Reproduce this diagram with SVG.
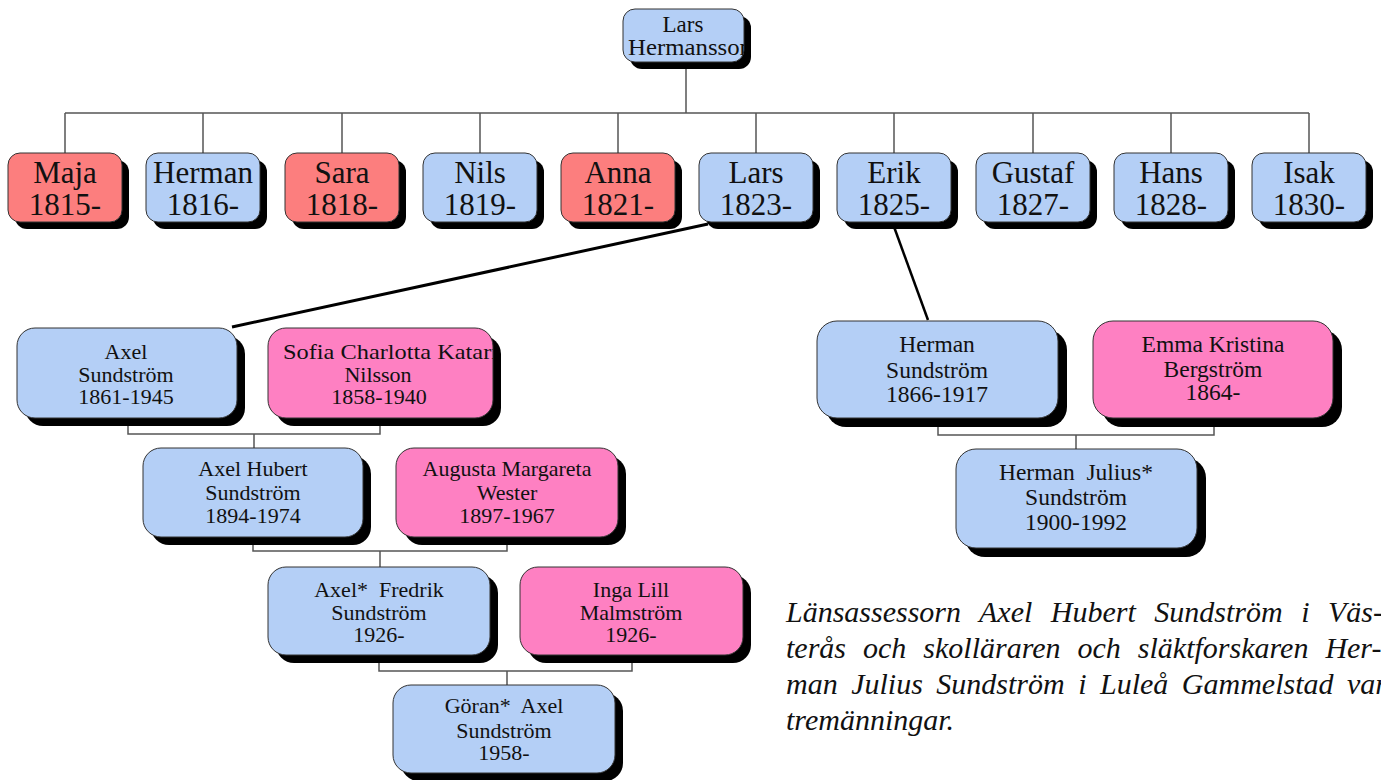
<svg xmlns="http://www.w3.org/2000/svg" width="1381" height="780" viewBox="0 0 1381 780">
<style>
.b{fill:#b4cff6;stroke:#333;stroke-width:1}
.r{fill:#fc7e7e;stroke:#333;stroke-width:1}
.p{fill:#fe80c2;stroke:#333;stroke-width:1}
.sh{fill:#000}
.t{font-family:"Liberation Serif","Times New Roman",serif;fill:#111;text-anchor:middle}
.s1{font-size:31px}
.s2{font-size:22px}
.s3{font-size:23.5px}
.s0{font-size:23px}
.conn{stroke:#555;stroke-width:1.5;fill:none}
.bold{stroke:#000;fill:none}
.cap{font-family:"Liberation Serif","Times New Roman",serif;font-style:italic;font-size:30px;fill:#111}
</style>
<defs>
<clipPath id="cTop"><rect x="623" y="9" width="121" height="53" rx="12"/></clipPath>
<clipPath id="cSofia"><rect x="268" y="328" width="225" height="90" rx="18"/></clipPath>
</defs>
<g id="connectors">
<path class="conn" d="M686 62V113M65 113H1309M65 113V153M203 113V153M342 113V153M480 113V153M618 113V153M756 113V153M894 113V153M1033 113V153M1171 113V153M1309 113V153"/>
<path class="conn" d="M128 418V434H380V418M254 434V448"/>
<path class="conn" d="M253 537V551H507V537M380 551V567"/>
<path class="conn" d="M379 655V671H632V655M507 671V685"/>
<path class="conn" d="M938 418V435H1214V418M1076 435V449"/>
<path class="bold" stroke-width="3" d="M708 224L232 327"/>
<path class="bold" stroke-width="2.5" d="M893 224L928 320"/>
</g>
<g id="n-lars-hermansson">
<rect class="sh" x="630" y="16" width="121" height="53" rx="12"/>
<rect class="b" x="623" y="9" width="121" height="53" rx="12"/>
<g clip-path="url(#cTop)">
<text class="t s0" x="683" y="32">Lars</text>
<text class="t s0" x="628" y="55" style="text-anchor:start" textLength="124" lengthAdjust="spacingAndGlyphs">Hermansson</text>
</g>
</g>
<g id="n-maja"><rect class="sh" x="15" y="160" width="114" height="69" rx="12"/><rect class="r" x="8" y="153" width="114" height="69" rx="12"/><text class="t s1" x="65" y="183">Maja</text><text class="t s1" x="65" y="215">1815-</text></g>
<g id="n-herman"><rect class="sh" x="153" y="160" width="114" height="69" rx="12"/><rect class="b" x="146" y="153" width="114" height="69" rx="12"/><text class="t s1" x="203" y="183">Herman</text><text class="t s1" x="203" y="215">1816-</text></g>
<g id="n-sara"><rect class="sh" x="292" y="160" width="114" height="69" rx="12"/><rect class="r" x="285" y="153" width="114" height="69" rx="12"/><text class="t s1" x="342" y="183">Sara</text><text class="t s1" x="342" y="215">1818-</text></g>
<g id="n-nils"><rect class="sh" x="430" y="160" width="114" height="69" rx="12"/><rect class="b" x="423" y="153" width="114" height="69" rx="12"/><text class="t s1" x="480" y="183">Nils</text><text class="t s1" x="480" y="215">1819-</text></g>
<g id="n-anna"><rect class="sh" x="568" y="160" width="114" height="69" rx="12"/><rect class="r" x="561" y="153" width="114" height="69" rx="12"/><text class="t s1" x="618" y="183">Anna</text><text class="t s1" x="618" y="215">1821-</text></g>
<g id="n-lars"><rect class="sh" x="706" y="160" width="114" height="69" rx="12"/><rect class="b" x="699" y="153" width="114" height="69" rx="12"/><text class="t s1" x="756" y="183">Lars</text><text class="t s1" x="756" y="215">1823-</text></g>
<g id="n-erik"><rect class="sh" x="844" y="160" width="114" height="69" rx="12"/><rect class="b" x="837" y="153" width="114" height="69" rx="12"/><text class="t s1" x="894" y="183">Erik</text><text class="t s1" x="894" y="215">1825-</text></g>
<g id="n-gustaf"><rect class="sh" x="983" y="160" width="114" height="69" rx="12"/><rect class="b" x="976" y="153" width="114" height="69" rx="12"/><text class="t s1" x="1033" y="183">Gustaf</text><text class="t s1" x="1033" y="215">1827-</text></g>
<g id="n-hans"><rect class="sh" x="1121" y="160" width="114" height="69" rx="12"/><rect class="b" x="1114" y="153" width="114" height="69" rx="12"/><text class="t s1" x="1171" y="183">Hans</text><text class="t s1" x="1171" y="215">1828-</text></g>
<g id="n-isak"><rect class="sh" x="1259" y="160" width="114" height="69" rx="12"/><rect class="b" x="1252" y="153" width="114" height="69" rx="12"/><text class="t s1" x="1309" y="183">Isak</text><text class="t s1" x="1309" y="215">1830-</text></g>

<g id="n-axel"><rect class="sh" x="25" y="336" width="220" height="90" rx="18"/><rect class="b" x="17" y="328" width="220" height="90" rx="18"/><text class="t s2" x="126" y="359">Axel</text><text class="t s2" x="126" y="382">Sundström</text><text class="t s2" x="126" y="404">1861-1945</text></g>
<g id="n-sofia"><rect class="sh" x="276" y="336" width="225" height="90" rx="18"/><rect class="p" x="268" y="328" width="225" height="90" rx="18"/><g clip-path="url(#cSofia)"><text class="t s2" x="283" y="359" style="text-anchor:start" textLength="238" lengthAdjust="spacingAndGlyphs">Sofia Charlotta Katarina</text></g><text class="t s2" x="378" y="382">Nilsson</text><text class="t s2" x="379" y="404">1858-1940</text></g>
<g id="n-axel-hubert"><rect class="sh" x="151" y="456" width="220" height="89" rx="18"/><rect class="b" x="143" y="448" width="220" height="89" rx="18"/><text class="t s2" x="253" y="476">Axel Hubert</text><text class="t s2" x="253" y="500">Sundström</text><text class="t s2" x="253" y="523">1894-1974</text></g>
<g id="n-augusta"><rect class="sh" x="404" y="456" width="222" height="89" rx="18"/><rect class="p" x="396" y="448" width="222" height="89" rx="18"/><text class="t s2" x="507" y="476">Augusta Margareta</text><text class="t s2" x="507" y="500">Wester</text><text class="t s2" x="507" y="523">1897-1967</text></g>
<g id="n-axel-fredrik"><rect class="sh" x="276" y="575" width="222" height="88" rx="18"/><rect class="b" x="268" y="567" width="222" height="88" rx="18"/><text class="t s2" x="379" y="597">Axel*&#160; Fredrik</text><text class="t s2" x="379" y="620">Sundström</text><text class="t s2" x="379" y="642">1926-</text></g>
<g id="n-inga"><rect class="sh" x="528" y="575" width="223" height="88" rx="18"/><rect class="p" x="520" y="567" width="223" height="88" rx="18"/><text class="t s2" x="631" y="597">Inga Lill</text><text class="t s2" x="631" y="620">Malmström</text><text class="t s2" x="631" y="642">1926-</text></g>
<g id="n-goran"><rect class="sh" x="401" y="693" width="222" height="88" rx="18"/><rect class="b" x="393" y="685" width="222" height="88" rx="18"/><text class="t s2" x="504" y="713">Göran*&#160; Axel</text><text class="t s2" x="504" y="738">Sundström</text><text class="t s2" x="504" y="760">1958-</text></g>

<g id="n-herman-sundstrom"><rect class="sh" x="826" y="330" width="241" height="97" rx="20"/><rect class="b" x="817" y="321" width="241" height="97" rx="20"/><text class="t s3" x="937" y="352">Herman</text><text class="t s3" x="937" y="378">Sundström</text><text class="t s3" x="937" y="402">1866-1917</text></g>
<g id="n-emma"><rect class="sh" x="1102" y="330" width="240" height="97" rx="20"/><rect class="p" x="1093" y="321" width="240" height="97" rx="20"/><text class="t s3" x="1213" y="352">Emma Kristina</text><text class="t s3" x="1213" y="377">Bergström</text><text class="t s3" x="1213" y="400">1864-</text></g>
<g id="n-herman-julius"><rect class="sh" x="965" y="458" width="241" height="99" rx="20"/><rect class="b" x="956" y="449" width="241" height="99" rx="20"/><text class="t s3" x="1076" y="480">Herman&#160; Julius*</text><text class="t s3" x="1076" y="505">Sundström</text><text class="t s3" x="1076" y="530">1900-1992</text></g>

<g id="caption" class="cap">
<text x="786" y="622" word-spacing="11">Länsassessorn Axel Hubert Sundström i Väs-</text>
<text x="786" y="658" word-spacing="9.5">terås och skolläraren och släktforskaren Her-</text>
<text x="786" y="694" word-spacing="6">man Julius Sundström i Luleå Gammelstad var</text>
<text x="786" y="730">tremänningar.</text>
</g>
</svg>
